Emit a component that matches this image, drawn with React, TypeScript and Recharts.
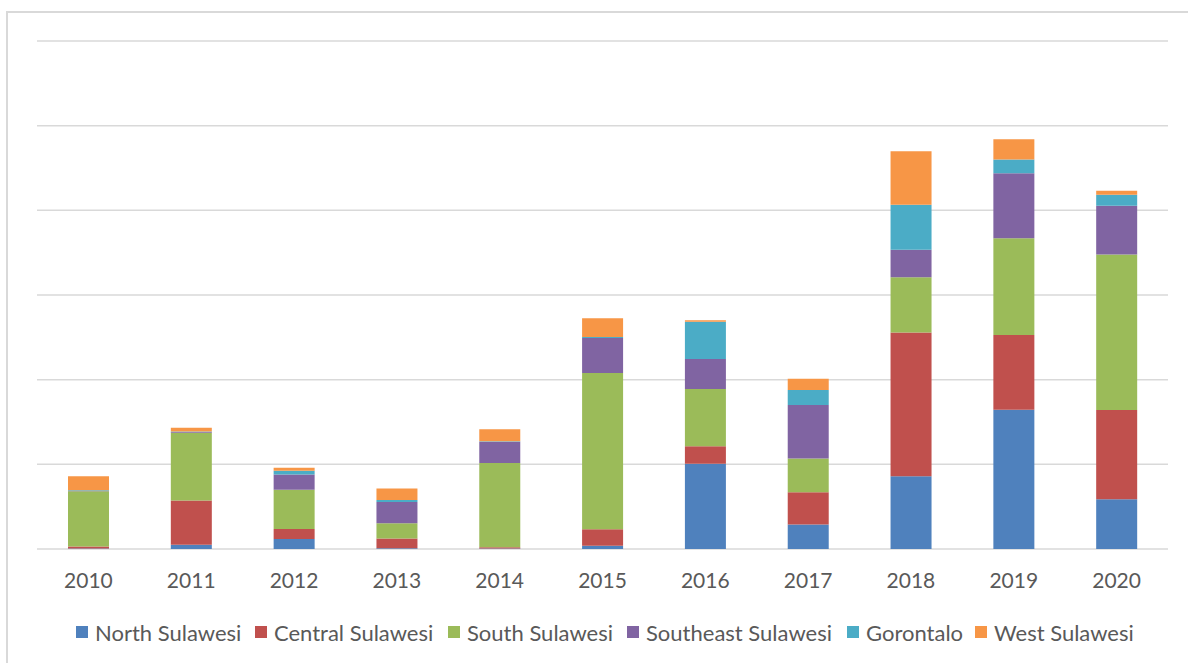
import { BarChart, Bar, XAxis, YAxis, CartesianGrid } from "recharts";

// Years on the x axis
const years = ["2010", "2011", "2012", "2013", "2014", "2015", "2016", "2017", "2018", "2019", "2020"];

// Series values (100 units per gridline)
const northSulawesi = [0.6, 5.1, 11.8, 0.8, 0.6, 3.9, 100.6, 28.8, 86, 164.5, 58.8];
const centralSulawesi = [2.4, 52.1, 11.8, 11.5, 1.5, 19.3, 20.9, 38.2, 169.6, 88.4, 105.3];
const southSulawesi = [65.1, 80.1, 46.5, 18.1, 99.4, 184.6, 67.5, 39.9, 65.4, 114, 183.8];
const southeastSulawesi = [0.4, 0.8, 17.8, 25.2, 25.2, 41.4, 35.5, 63.1, 32.3, 76.9, 57.6];
const gorontalo = [0.8, 0.7, 4.4, 2.4, 0.6, 1.2, 43.8, 17.8, 53.3, 16.2, 13];
const westSulawesi = [16.6, 4.4, 3.6, 13.4, 14.2, 22.1, 2, 13.4, 63.1, 24, 4.7];

const yTicks = [0, 100, 200, 300, 400, 500, 600];

const series = [
  { key: "north", name: "North Sulawesi", values: northSulawesi, color: "#4f81bd", lx: 76 },
  { key: "central", name: "Central Sulawesi", values: centralSulawesi, color: "#c0504d", lx: 255 },
  { key: "south", name: "South Sulawesi", values: southSulawesi, color: "#9bbb59", lx: 448 },
  { key: "southeast", name: "Southeast Sulawesi", values: southeastSulawesi, color: "#8064a2", lx: 627 },
  { key: "gorontalo", name: "Gorontalo", values: gorontalo, color: "#4bacc6", lx: 847 },
  { key: "west", name: "West Sulawesi", values: westSulawesi, color: "#f79646", lx: 975 },
];

const data = years.map((year, i) => {
  const row: any = { year };
  series.forEach((s) => {
    row[s.key] = s.values[i];
  });
  return row;
});

export default function App() {
  return (
    <div
      style={{
        position: "fixed",
        left: 0,
        top: 0,
        width: 1188,
        height: 663,
        overflow: "hidden",
        background: "#fff",
        fontFamily: "Lato, 'Liberation Sans', sans-serif",
      }}
    >
      {/* frame, right and bottom edges fall outside the picture */}
      <div
        style={{
          position: "absolute",
          left: 6,
          top: 11,
          width: 1300,
          height: 800,
          borderTop: "2px solid #d9d9d9",
          borderLeft: "2px solid #d9d9d9",
          zIndex: 2,
        }}
      />
      <div style={{ position: "absolute", left: 0, top: 0 }}>
        <BarChart
          width={1188}
          height={663}
          data={data}
          margin={{ top: 41, right: 20, left: 37, bottom: 84 }}
        >
          <CartesianGrid vertical={false} stroke="#d9d9d9" strokeWidth={1.5} />
          <XAxis
            dataKey="year"
            height={30}
            axisLine={false}
            tickLine={false}
            tickSize={0}
            tickMargin={24}
            tick={{ fill: "#595959", fontSize: 21, fontFamily: "Lato, sans-serif" }}
          />
          <YAxis hide domain={[0, 600]} ticks={yTicks} />
          {series.map((s) => (
            <Bar
              key={s.key}
              dataKey={s.key}
              name={s.name}
              stackId="a"
              fill={s.color}
              barSize={41}
              isAnimationActive={false}
            />
          ))}
        </BarChart>
      </div>
      {/* legend */}
      {series.map((s) => (
        <div
          key={s.key}
          style={{
            position: "absolute",
            left: s.lx,
            top: 619,
            height: 26,
            display: "flex",
            alignItems: "center",
            gap: 7,
            color: "#595959",
            fontSize: 22,
            whiteSpace: "nowrap",
          }}
        >
          <span style={{ width: 12, height: 12, background: s.color, display: "inline-block" }} />
          <span>{s.name}</span>
        </div>
      ))}
    </div>
  );
}
